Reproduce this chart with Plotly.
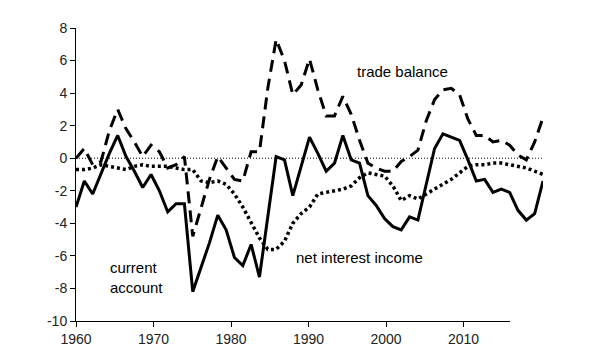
import plotly.graph_objects as go

years = list(range(1960, 2017))

current_account = [
    -3.0, -1.4, -2.2, -0.9, 0.3, 1.4, 0.1, -0.8, -1.8, -1.0,
    -2.0, -3.3, -2.8, -2.8, -8.2, -6.7, -5.2, -3.5, -4.4, -6.1,
    -6.6, -5.3, -7.3, -3.6, 0.1, -0.1, -2.3, -0.5, 1.3, 0.3,
    -0.8, -0.3, 1.4, -0.1, -0.3, -2.3, -2.9, -3.7, -4.2, -4.4,
    -3.6, -3.8, -1.5, 0.6, 1.5, 1.3, 1.1, -0.1, -1.4, -1.3,
    -2.1, -1.9, -2.1, -3.2, -3.8, -3.4, -1.4,
]

trade_balance = [
    0.0, 0.6, -0.4, -0.2, 1.7, 3.0, 1.8, 1.0, 0.1, 0.8,
    0.4, -0.6, -0.4, 0.1, -4.8, -3.1, -1.3, 0.1, -0.6, -1.3,
    -1.4, 0.4, 0.4, 4.3, 7.3, 6.0, 3.9, 4.5, 6.1, 4.2,
    2.6, 2.6, 3.8, 2.7, 1.1, -0.3, -0.6, -0.8, -0.8, -0.2,
    0.1, 0.5, 2.3, 3.6, 4.2, 4.3, 3.9, 2.4, 1.4, 1.4,
    1.0, 1.1, 0.8, 0.2, -0.1, 1.0, 2.5,
]

net_interest_income = [
    -0.7, -0.7, -0.6, -0.4, -0.5, -0.6, -0.7, -0.5, -0.4, -0.5,
    -0.5, -0.5, -0.6, -0.7, -0.7, -1.4, -1.5, -1.4, -1.6, -2.2,
    -3.0, -4.0, -4.9, -5.6, -5.6, -5.1, -4.0, -3.4, -3.0, -2.2,
    -2.1, -2.0, -1.9, -1.7, -1.2, -0.9, -1.0, -1.1, -1.7, -2.6,
    -2.3, -2.5, -2.2, -1.9, -1.6, -1.3, -0.9, -0.5, -0.4, -0.4,
    -0.3, -0.3, -0.4, -0.5, -0.6, -0.8, -1.0,
]

x_ticks = [1960, 1970, 1980, 1990, 2000, 2010]
y_ticks = list(range(-10, 9, 2))

FONT = "Liberation Sans, Arial, sans-serif"

W, H = 600, 360
L, R, T, B = 68, 65, 20, 47
plot_w = W - L - R
axis_frac = (502 - L) / plot_w  # visible x axis line / labels end

fig = go.Figure()

# invisible trace so that the labelled x axis is drawn
fig.add_trace(go.Scatter(
    x=[1960, 2016], y=[None, None], mode="lines", xaxis="x", yaxis="y",
    line=dict(width=0), showlegend=False, hoverinfo="skip",
))

# zero reference line
fig.add_trace(go.Scatter(
    x=[years[0], years[-1]], y=[0, 0], mode="lines", xaxis="x2", yaxis="y",
    line=dict(color="black", width=1, dash="1px,2px"),
    showlegend=False, hoverinfo="skip",
))

fig.add_trace(go.Scatter(
    x=years, y=net_interest_income, mode="lines", name="net interest income",
    xaxis="x2", yaxis="y",
    line=dict(color="black", width=3.5, dash="3px,3px"),
))
fig.add_trace(go.Scatter(
    x=years, y=trade_balance, mode="lines", name="trade balance",
    xaxis="x2", yaxis="y",
    line=dict(color="black", width=3, dash="12px,7px"),
))
fig.add_trace(go.Scatter(
    x=years, y=current_account, mode="lines", name="current account",
    xaxis="x2", yaxis="y",
    line=dict(color="black", width=3),
))

fig.update_layout(
    width=W, height=H,
    margin=dict(l=L, r=R, t=T, b=B),
    paper_bgcolor="white", plot_bgcolor="white",
    showlegend=False,
    font=dict(family=FONT, size=15, color="black"),
    xaxis=dict(
        domain=[0, axis_frac],
        range=[1960, 2016], tickvals=x_ticks, ticktext=[str(t) for t in x_ticks],
        showgrid=False, zeroline=False, showline=True, linecolor="black", linewidth=1,
        ticks="outside", ticklen=5, tickcolor="black",
        tickfont=dict(family=FONT, size=14, color="#222"),
        anchor="y",
    ),
    xaxis2=dict(
        domain=[0, 1], range=[1960, 2016], visible=False, anchor="y",
        showgrid=False, zeroline=False,
    ),
    yaxis=dict(
        range=[-10, 8], tickvals=y_ticks, ticktext=[str(t) for t in y_ticks],
        showgrid=False, zeroline=False, showline=True, linecolor="black", linewidth=1,
        ticks="outside", ticklen=5, tickcolor="black",
        tickfont=dict(family=FONT, size=14, color="#222"),
        anchor="x",
    ),
    annotations=[
        dict(x=1999.1, y=5.35, xref="x2", yref="y", text="trade balance", showarrow=False,
             xanchor="center", yanchor="middle", font=dict(size=15)),
        dict(x=1994.05, y=-6.1, xref="x2", yref="y", text="net interest income", showarrow=False,
             xanchor="center", yanchor="middle", font=dict(size=15)),
        dict(x=1963.8, y=-7.3, xref="x2", yref="y", text="current<br>account", showarrow=False,
             xanchor="left", yanchor="middle", align="left", font=dict(size=15)),
    ],
)

fig.write_html("out.html")
